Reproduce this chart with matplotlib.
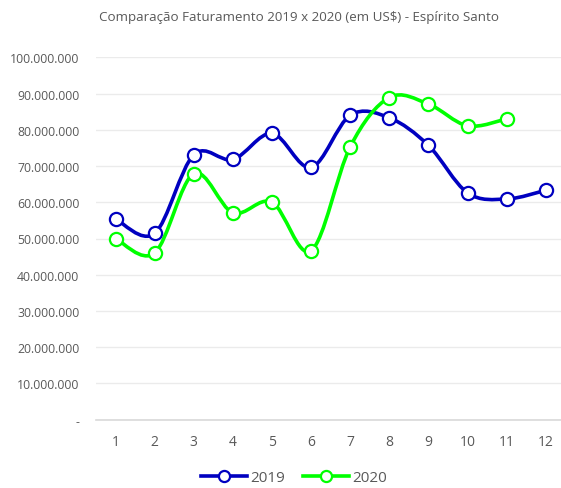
import matplotlib
matplotlib.use("Agg")
import matplotlib.pyplot as plt
from matplotlib.path import Path
from matplotlib.patches import PathPatch
from matplotlib.ticker import FuncFormatter
from matplotlib.lines import Line2D

months = list(range(1, 13))
fat_2019 = [55.4, 51.4, 73.1, 71.8, 79.0, 69.6, 84.0, 83.3, 75.7, 62.6, 60.9, 63.3]
fat_2020 = [50.0, 46.0, 67.9, 57.1, 60.0, 46.6, 75.3, 88.9, 87.1, 81.1, 83.0]
fat_2019 = [v * 1e6 for v in fat_2019]
fat_2020 = [v * 1e6 for v in fat_2020]

blue = "#0000C0"
green = "#00FF00"
grey = "#595959"

plt.rcParams['font.family'] = ['Open Sans', 'DejaVu Sans']


def smooth_path(xs, ys):
    # Excel-like smoothed line: cubic bezier with catmull-rom control points
    verts = [(xs[0], ys[0])]
    codes = [Path.MOVETO]
    n = len(xs)
    for i in range(n - 1):
        x0, y0 = (xs[i - 1], ys[i - 1]) if i > 0 else (xs[i], ys[i])
        x1, y1 = xs[i], ys[i]
        x2, y2 = xs[i + 1], ys[i + 1]
        x3, y3 = (xs[i + 2], ys[i + 2]) if i + 2 < n else (x2, y2)
        c1 = (x1 + (x2 - x0) / 6, y1 + (y2 - y0) / 6)
        c2 = (x2 - (x3 - x1) / 6, y2 - (y3 - y1) / 6)
        verts += [c1, c2, (x2, y2)]
        codes += [Path.CURVE4] * 3
    return Path(verts, codes)


fig = plt.figure(figsize=(5.61, 4.89), dpi=100)
ax = fig.add_axes([96 / 561, 1 - 420.7 / 489, 465 / 561, (420.7 - 58.3) / 489])

for vals, col in [(fat_2019, blue), (fat_2020, green)]:
    xs = months[:len(vals)]
    p = smooth_path(xs, vals)
    ax.add_patch(PathPatch(p, facecolor="none", edgecolor=col, lw=2.6,
                           capstyle="round", joinstyle="round", zorder=3))
    ax.plot(xs, vals, ls="none", marker="o", ms=9.5, mfc="white",
            mec=col, mew=1.6, zorder=4, clip_on=False)

ax.set_xlim(0.5, 12.39)
ax.set_ylim(0, 100e6)
ax.set_xticks(months)
ax.set_yticks([i * 10e6 for i in range(11)])


def fmt(v, pos):
    if v == 0:
        return "-"
    return f"{int(round(v)):,}".replace(",", ".")


ax.yaxis.set_major_formatter(FuncFormatter(fmt))
ax.tick_params(axis="both", length=0, colors=grey)
ax.tick_params(axis="x", pad=10.5, labelsize=10)
ax.tick_params(axis="y", pad=12, labelsize=8.8)
ax.grid(axis="y", color="#EBEBEB", lw=1)
ax.set_axisbelow(True)
for s in ["top", "right", "left"]:
    ax.spines[s].set_visible(False)
ax.spines["bottom"].set_color("#D9D9D9")
ax.spines["bottom"].set_linewidth(1.2)

fig.text(299 / 561, 1 - 18 / 489, "Comparação Faturamento 2019 x 2020 (em US$) - Espírito Santo",
         ha="center", va="center", color=grey, fontsize=9.6)

handles = [
    Line2D([], [], color=blue, lw=2.6, marker="o", ms=8, mfc="white", mec=blue, mew=1.6),
    Line2D([], [], color=green, lw=2.6, marker="o", ms=8, mfc="white", mec=green, mew=1.6),
]
fig.legend(handles, ["2019", "2020"], loc="center", bbox_to_anchor=(294 / 561, 1 - 479 / 489),
           ncol=2, frameon=False, fontsize=11, labelcolor=grey, handlelength=3.0,
           handletextpad=0.2, columnspacing=1.2, borderpad=0.1)

fig.savefig("out.png", dpi=100)
